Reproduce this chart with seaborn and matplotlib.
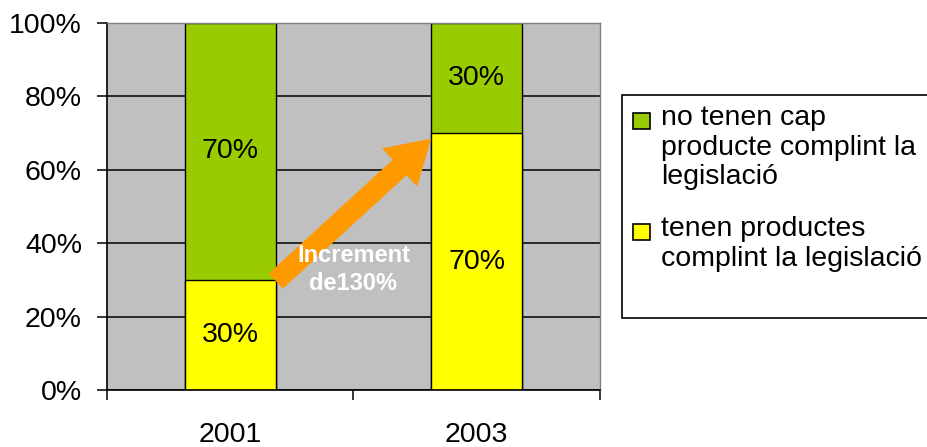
import seaborn as sns
import matplotlib.pyplot as plt
import pandas as pd
from matplotlib.patches import Rectangle

years = ["2001", "2003"]
compliant = [30, 70]        # tenen productes complint la legislació
non_compliant = [70, 30]    # no tenen cap producte complint la legislació
legend_labels = ["no tenen cap\nproducte complint la\nlegislació",
                 "tenen productes\ncomplint la legislació"]
increment_text = "Increment\nde130%"

green = "#99CC00"
yellow = "#FFFF00"
orange = "#FF9900"
FS = 20.5

sns.set_style("white")
plt.rcParams["font.family"] = ["Liberation Sans", "DejaVu Sans"]
plt.rcParams["text.color"] = "black"
plt.rcParams["xtick.color"] = "black"
plt.rcParams["ytick.color"] = "black"

df = pd.DataFrame({"year": years, "yes": compliant, "no": non_compliant})
df["total"] = df["yes"] + df["no"]

fig = plt.figure(figsize=(9.28, 4.47), dpi=100)
ax = fig.add_axes([107 / 928, 57 / 447, 493 / 928, 367 / 447])
ax.set_facecolor("#C0C0C0")

# stacked: total (green) behind, yellow in front
sns.barplot(data=df, x="year", y="total", color=green, width=0.37,
            edgecolor="black", linewidth=1, saturation=1, ax=ax)
sns.barplot(data=df, x="year", y="yes", color=yellow, width=0.37,
            edgecolor="black", linewidth=1, saturation=1, ax=ax)

ax.set_xlim(-0.5, 1.5)
ax.set_ylim(0, 100)
ax.set_yticks([0, 20, 40, 60, 80, 100])
ax.set_yticklabels([f"{v}%" for v in range(0, 101, 20)], fontsize=FS)
ax.set_axisbelow(True)
ax.yaxis.grid(True, color="black", linewidth=1.1)
ax.tick_params(axis="y", length=7, width=1.1, color="black", left=True, pad=11)

ax.set_xticks([-0.5, 0.5, 1.5])
ax.set_xticklabels([])
ax.set_xticks([0, 1], minor=True)
ax.set_xticklabels(years, minor=True, fontsize=FS)
ax.tick_params(axis="x", which="major", length=7, width=1.1, color="black", bottom=True)
ax.tick_params(axis="x", which="minor", length=0, pad=23)
ax.set_xlabel("")
ax.set_ylabel("")

for side in ["left", "bottom"]:
    ax.spines[side].set_color("black")
    ax.spines[side].set_linewidth(1.2)
for side in ["top", "right"]:
    ax.spines[side].set_color("#808080")
    ax.spines[side].set_linewidth(1)

# segment labels
for i in range(len(years)):
    ax.text(i, compliant[i] / 2, f"{compliant[i]}%", ha="center", va="center", fontsize=FS)
    ax.text(i, compliant[i] + non_compliant[i] / 2, f"{non_compliant[i]}%",
            ha="center", va="center", fontsize=FS)

# increment arrow
ax.annotate("", xy=(0.815, 68.5), xytext=(0.185, 29.7),
            arrowprops=dict(arrowstyle="simple,head_length=1.4,head_width=1.7,tail_width=0.68",
                            color=orange, linewidth=0, shrinkA=0, shrinkB=0,
                            mutation_scale=22))
ax.text(0.5, 32.8, increment_text, ha="center", va="center", color="white",
        fontsize=17, fontweight="bold", linespacing=1.25)

# legend box with entries (square aligned with first line of each label)
fig.patches.append(Rectangle((622 / 928, 1 - 318 / 447), 0.5, 223 / 447,
                             transform=fig.transFigure, facecolor="white",
                             edgecolor="black", linewidth=1.2, zorder=0))
entry_tops = [105, 216]
colors = [green, yellow]
for top, lab, col in zip(entry_tops, legend_labels, colors):
    fig.patches.append(Rectangle((633 / 928, 1 - (top + 24) / 447), 17 / 928, 16 / 447,
                                 transform=fig.transFigure, facecolor=col,
                                 edgecolor="black", linewidth=1.2))
    fig.text(661 / 928, 1 - top / 447, lab, ha="left", va="top",
             fontsize=FS, linespacing=1.18)

fig.savefig("out.png", dpi=100)
